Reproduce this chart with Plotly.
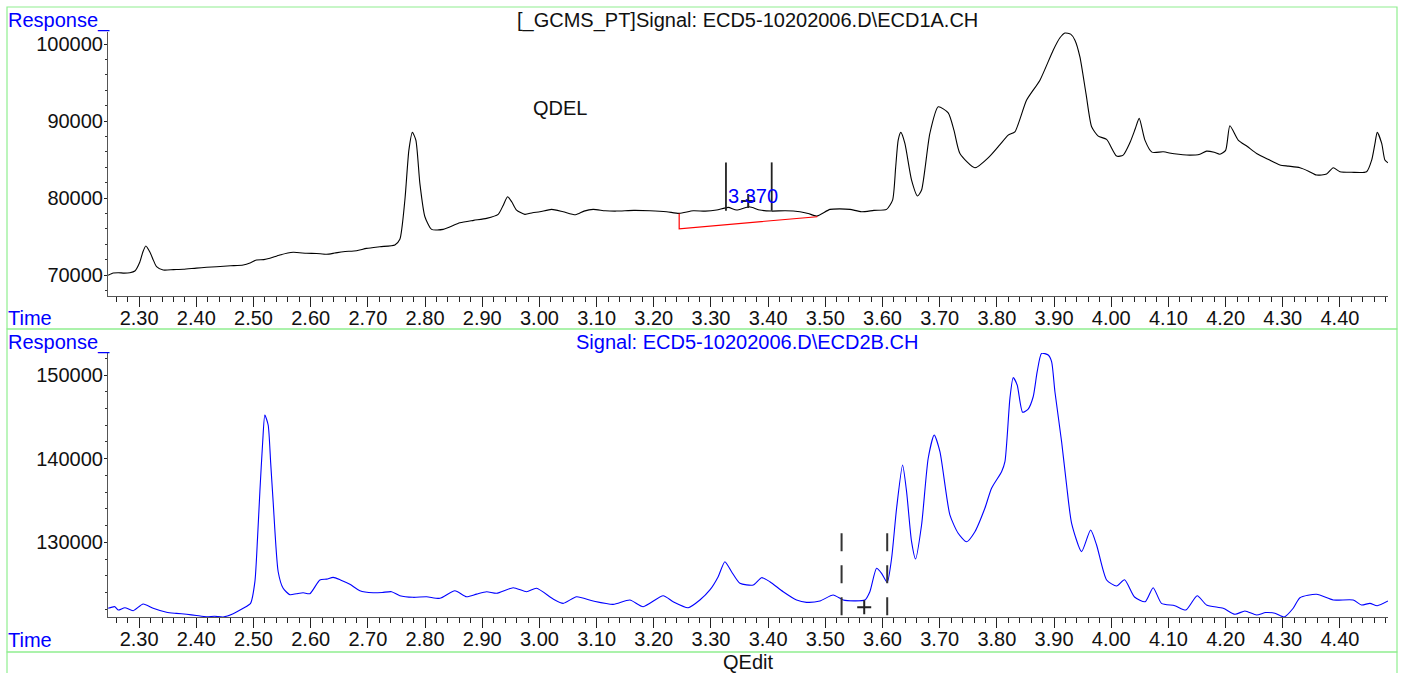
import plotly.graph_objects as go

# ---------------- data ----------------
top_time = [2.2458, 2.2545, 2.2633, 2.2737, 2.2837, 2.2925, 2.3012, 2.3065, 2.3117, 2.3187, 2.3250,
            2.3304, 2.3420, 2.3600, 2.3770, 2.4000, 2.4180, 2.4354, 2.4600, 2.4819, 2.4950, 2.5053,
            2.5180, 2.5286, 2.5461, 2.5693, 2.5928, 2.6100, 2.6277, 2.6420, 2.6568, 2.6802, 2.6977,
            2.7210, 2.7472, 2.7559, 2.7647, 2.7717, 2.7778, 2.7839, 2.7909, 2.7997, 2.8114, 2.8317,
            2.8609, 2.8850, 2.9076, 2.9278, 2.9360, 2.9443, 2.9518, 2.9600, 2.9745, 2.9880, 3.0008,
            3.0212, 3.0415, 3.0632, 3.0780, 3.0940, 3.1150, 3.1349, 3.1650, 3.1932, 3.2224, 3.2444,
            3.2689, 3.2900, 3.3098, 3.3301, 3.3448, 3.3668, 3.3855, 3.4062, 3.4300, 3.4555, 3.4700,
            3.4848, 3.5081, 3.5250, 3.5431, 3.5634, 3.5850, 3.6071, 3.6176, 3.6230, 3.6274, 3.6321,
            3.6391, 3.6508, 3.6613, 3.6683, 3.6828, 3.6974, 3.7149, 3.7250, 3.7354, 3.7616, 3.7878,
            3.8050, 3.8198, 3.8315, 3.8520, 3.8753, 3.8985, 3.9100, 3.9190, 3.9290, 3.9365, 3.9452,
            3.9560, 3.9657, 3.9773, 3.9919, 4.0094, 4.0209, 4.0326, 4.0420, 4.0489, 4.0589, 4.0711,
            4.0909, 4.1100, 4.1375, 4.1550, 4.1667, 4.1800, 4.1900, 4.2000, 4.2075, 4.2220, 4.2380,
            4.2542, 4.2750, 4.2950, 4.3100, 4.3300, 4.3450, 4.3591, 4.3766, 4.3882, 4.4000, 4.4200,
            4.4466, 4.4555, 4.4610, 4.4652, 4.4730, 4.4786, 4.4840]
top_resp = [69960, 70250, 70300, 70250, 70300, 70520, 71690, 73000, 73770, 72990, 71900,
            71080, 70650, 70700, 70740, 70900, 71000, 71080, 71200, 71300, 71600, 71950,
            72000, 72170, 72600, 72950, 72820, 72800, 72690, 72850, 73030, 73160, 73460,
            73680, 73900, 74640, 79740, 86230, 88530, 87530, 81910, 77570, 75930, 75930,
            76790, 77100, 77360, 77880, 78960, 80170, 79480, 78440, 77880, 78100, 78220,
            78530, 78220, 77830, 78300, 78530, 78350, 78310, 78400, 78350, 78220, 78010,
            78350, 78300, 78440, 78790, 78440, 78870, 78440, 78310, 78350, 78220, 78000,
            77660, 78530, 78600, 78530, 78220, 78400, 78530, 79740, 84000, 87530, 88530,
            87100, 82340, 80260, 81040, 88400, 91860, 91080, 88800, 85800, 83940, 85450,
            86900, 88180, 88610, 92730, 95320, 99220, 100800, 101450, 101300, 100520, 98350,
            93500, 89260, 88050, 87620, 85450, 85580, 87180, 89000, 90350, 87530, 85970,
            86010, 85750, 85580, 85700, 86100, 85950, 85700, 86200, 89390, 87530, 86700,
            85800, 85000, 84290, 84150, 83940, 83500, 82990, 83120, 83940, 83420, 83350,
            83420, 84940, 87000, 88530, 87100, 84940, 84580]

bot_time = [2.2458, 2.2575, 2.2633, 2.2750, 2.2895, 2.3070, 2.3245, 2.3479, 2.3650, 2.3829, 2.4000,
            2.4179, 2.4320, 2.4469, 2.4644, 2.4819, 2.4948, 2.5024, 2.5070, 2.5111, 2.5160, 2.5198,
            2.5256, 2.5300, 2.5343, 2.5431, 2.5518, 2.5636, 2.5750, 2.5868, 2.5985, 2.6160, 2.6280,
            2.6393, 2.6520, 2.6685, 2.6860, 2.7092, 2.7250, 2.7414, 2.7559, 2.7792, 2.8026, 2.8259,
            2.8521, 2.8726, 2.8900, 2.9076, 2.9251, 2.9541, 2.9775, 2.9950, 3.0240, 3.0415, 3.0649,
            3.0940, 3.1290, 3.1582, 3.1814, 3.2164, 3.2339, 3.2601, 3.2806, 3.2981, 3.3126, 3.3243,
            3.3360, 3.3506, 3.3738, 3.3885, 3.4030, 3.4263, 3.4497, 3.4672, 3.4905, 3.5137, 3.5312,
            3.5500, 3.5692, 3.5779, 3.5896, 3.5984, 3.6082, 3.6159, 3.6246, 3.6351, 3.6421, 3.6508,
            3.6578, 3.6683, 3.6799, 3.6904, 3.7004, 3.7178, 3.7323, 3.7469, 3.7616, 3.7790, 3.7907,
            3.8082, 3.8141, 3.8228, 3.8285, 3.8355, 3.8450, 3.8547, 3.8635, 3.8705, 3.8782, 3.8898,
            3.8957, 3.9015, 3.9132, 3.9219, 3.9307, 3.9481, 3.9639, 3.9744, 3.9919, 4.0094, 4.0233,
            4.0407, 4.0593, 4.0733, 4.0879, 4.1112, 4.1305, 4.1503, 4.1667, 4.1958, 4.2163, 4.2338,
            4.2542, 4.2700, 4.2862, 4.3025, 4.3182, 4.3300, 4.3591, 4.3882, 4.4232, 4.4377, 4.4524,
            4.4652, 4.4840]
bot_resp = [122106, 122300, 121900, 122180, 121820, 122620, 122110, 121630, 121500, 121390, 121250,
            121100, 121150, 121070, 121460, 122110, 122700, 125290, 130500, 136050, 142000, 145220,
            144030, 139500, 134860, 126480, 124500, 123730, 123850, 123970, 123850, 125490, 125600,
            125810, 125500, 124980, 124210, 123970, 124000, 124090, 123610, 123420, 123490, 123300,
            124210, 123490, 123800, 124090, 123900, 124570, 124090, 124500, 123220, 122700, 123490,
            122980, 122580, 123100, 122300, 123610, 122900, 122180, 123100, 124300, 125890, 127680,
            126480, 125100, 124890, 125770, 125290, 124090, 123100, 122820, 122980, 123700, 123100,
            123000, 123100, 124090, 126890, 126290, 125220, 128090, 134070, 139240, 136050, 130070,
            128000, 132070, 140050, 142830, 140840, 133270, 131080, 130070, 131270, 134070, 136460,
            138440, 139640, 147220, 149690, 148810, 145550, 145940, 147410, 150400, 152600, 152400,
            151600, 148010, 142030, 136850, 132270, 128880, 131470, 129680, 125490, 124770, 125530,
            123460, 122900, 124570, 122700, 122420, 121900, 123610, 122500, 122100, 121390, 121780,
            121300, 121600, 121510, 121070, 122110, 123370, 123780, 123100, 123100, 122500, 122700,
            122420, 122980]

# integration marks (top panel)
mark_x = [3.3262, 3.4062]
mark_lo = 78351
mark_hi = 84636
base_x = [3.2444, 3.2444, 3.4848, 3.4848]
base_y = [78010, 76013, 77571, 77660]
peak_top = (3.3651, 79610)
peak_label = "3.370"

# marks (bottom panel)
dash_x = [3.5284, 3.6082]
dash_hi = 131076
peak_bot = (3.5680, 122225)

x_range = [2.2455, 4.484]
y1_range = [67273, 101580]
y2_range = [121066, 152640]

top_title = "[_GCMS_PT]Signal: ECD5-10202006.D\\ECD1A.CH"
bot_title = "Signal: ECD5-10202006.D\\ECD2B.CH"

# ---------------- figure ----------------
W, H = 1401, 673
FONT = "Liberation Sans, Arial, sans-serif"
BLUE = "#0000ff"
GREEN = "#90ee90"
AX = "#555555"

def px(x):
    return x / W

def py(y):
    return 1 - y / H

fig = go.Figure()
fig.add_trace(go.Scatter(x=top_time, y=top_resp, mode="lines",
                         line=dict(color="black", width=1.1, shape="spline", smoothing=0.6),
                         xaxis="x", yaxis="y", showlegend=False, hoverinfo="skip"))
fig.add_trace(go.Scatter(x=bot_time, y=bot_resp, mode="lines",
                         line=dict(color=BLUE, width=1.1, shape="spline", smoothing=0.6),
                         xaxis="x2", yaxis="y2", showlegend=False, hoverinfo="skip"))
# red baseline
fig.add_trace(go.Scatter(x=base_x, y=base_y, mode="lines", line=dict(color="red", width=1.2),
                         xaxis="x", yaxis="y", showlegend=False, hoverinfo="skip"))
# integration ticks
for mx in mark_x:
    fig.add_trace(go.Scatter(x=[mx, mx], y=[mark_lo, mark_hi], mode="lines",
                             line=dict(color="#222222", width=1.8), xaxis="x", yaxis="y",
                             showlegend=False, hoverinfo="skip"))
fig.add_trace(go.Scatter(x=[peak_top[0]], y=[peak_top[1]], mode="markers",
                         marker=dict(symbol="cross-thin", size=10, line=dict(color="#222222", width=2)),
                         xaxis="x", yaxis="y", showlegend=False, hoverinfo="skip"))
for dx in dash_x:
    fig.add_trace(go.Scatter(x=[dx, dx], y=[dash_hi, y2_range[0]], mode="lines",
                             line=dict(color="#333333", width=2, dash="18px,14px"),
                             xaxis="x2", yaxis="y2", showlegend=False, hoverinfo="skip",
                             cliponaxis=False))
fig.add_trace(go.Scatter(x=[peak_bot[0]], y=[peak_bot[1]], mode="markers",
                         marker=dict(symbol="cross-thin", size=10, line=dict(color="#222222", width=2)),
                         xaxis="x2", yaxis="y2", showlegend=False, hoverinfo="skip"))

xdom = [px(108), px(1388)]
xcommon = dict(range=x_range, domain=xdom, showgrid=False, zeroline=False, showline=True,
               linecolor=AX, linewidth=1, ticks="outside", tick0=2.3, dtick=0.1, ticklen=10,
               tickcolor="#222222", tickwidth=1, tickformat=".2f", ticklabelstandoff=-6,
               tickfont=dict(family=FONT, size=20, color="#111111"),
               minor=dict(dtick=0.02, tick0=2.3, ticks="outside", ticklen=5, tickcolor="#222222"))
ycommon = dict(showgrid=False, zeroline=False, showline=True, linecolor=AX, linewidth=1,
               ticks="outside", tick0=70000, dtick=10000, ticklen=3, tickcolor="#222222",
               tickformat="d", ticklabelstandoff=-3,
               tickfont=dict(family=FONT, size=20, color="#111111"),
               minor=dict(dtick=2000, ticks="outside", ticklen=2, tickcolor="#333333"))

fig.update_layout(
    width=W, height=H, margin=dict(l=0, r=0, t=0, b=0),
    paper_bgcolor="white", plot_bgcolor="white",
    xaxis=dict(**xcommon, anchor="y"),
    yaxis=dict(**ycommon, range=y1_range, domain=[py(296), py(32)], anchor="x"),
    xaxis2=dict(**xcommon, anchor="y2"),
    yaxis2=dict(**ycommon, range=y2_range, domain=[py(617), py(353)], anchor="x2"),
)

# green frames
shapes = []
for (x0, y0, x1, y1) in [(7, 7, 1397, 329), (7, 329, 1397, 652), (7, 652, 1397, 700)]:
    shapes.append(dict(type="rect", xref="paper", yref="paper", x0=px(x0), x1=px(x1),
                       y0=py(y1), y1=py(y0), line=dict(color=GREEN, width=1.2)))
fig.update_layout(shapes=shapes)

def txt(s, x, y, color="#111111", xanchor="left", size=20):
    fig.add_annotation(text=s, x=px(x), y=py(y), xref="paper", yref="paper",
                       xanchor=xanchor, yanchor="middle", showarrow=False,
                       font=dict(family=FONT, size=size, color=color))

txt("Response_", 6, 20, BLUE)
txt("Time", 6, 318, BLUE)
txt(top_title, 747, 20, xanchor="center")
txt("QDEL", 531, 108)
txt(peak_label, 753, 196, BLUE, xanchor="center")
txt("Response_", 6, 342, BLUE)
txt("Time", 6, 640, BLUE)
txt(bot_title, 747, 342, BLUE, xanchor="center")
txt("QEdit", 748, 662, xanchor="center")

fig.write_html("out.html", config={"displayModeBar": False},
               post_script="document.body.style.margin='0';document.body.style.overflow='hidden';")
